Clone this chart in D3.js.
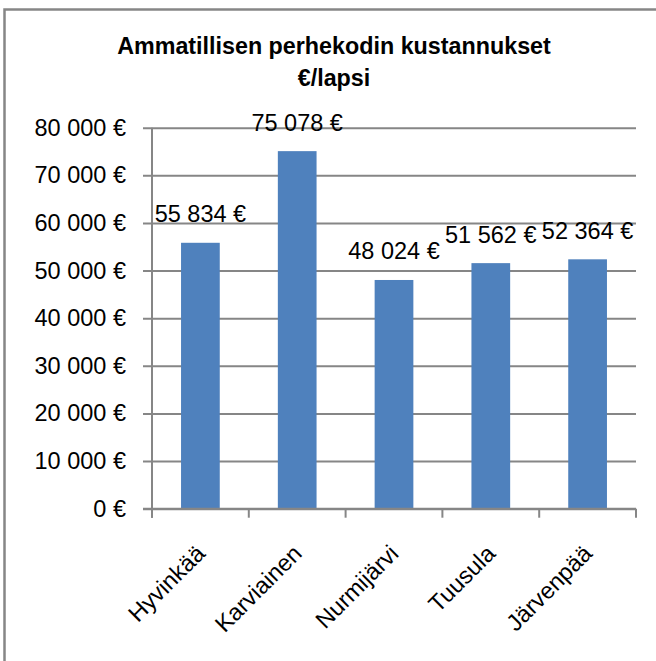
<!DOCTYPE html>
<html>
<head>
<meta charset="utf-8">
<script src="https://cdn.jsdelivr.net/npm/d3@7/dist/d3.min.js"></script>
<style>
  html, body { margin: 0; padding: 0; background: #fff; }
  svg { display: block; }
  text { font-family: "Liberation Sans", Arial, sans-serif; fill: #000; }
</style>
</head>
<body>
<svg id="chart" width="656" height="661"></svg>
<script>
const titleLines = ["Ammatillisen perhekodin kustannukset", "€/lapsi"];
const categories = ["Hyvinkää", "Karviainen", "Nurmijärvi", "Tuusula", "Järvenpää"];
const values = [55834, 75078, 48024, 51562, 52364];
const yTicks = [0, 10000, 20000, 30000, 40000, 50000, 60000, 70000, 80000];

const W = 656, H = 661;
const svg = d3.select("#chart");
const gray = "#868686";
const barColor = "#4F81BD";

const locale = d3.formatLocale({ decimal: ",", thousands: "\u00a0", grouping: [3], currency: ["", "\u00a0€"] });
const fmt = locale.format("$,.0f");

// outer border
svg.append("rect")
  .attr("x", 4.5).attr("y", 9.5)
  .attr("width", 700).attr("height", 700)
  .attr("fill", "none").attr("stroke", gray).attr("stroke-width", 2.5);

// title
const title = svg.append("text")
  .attr("text-anchor", "middle")
  .attr("font-weight", "bold")
  .attr("font-size", 23.3);
titleLines.forEach((t, i) => {
  title.append("tspan").attr("x", 334).attr("y", 53.5 + i * 32.5).text(t);
});

const plot = { left: 152, right: 636, top: 127.7, bottom: 508.7 };
const x = d3.scaleBand().domain(categories).range([plot.left, plot.right])
  .paddingInner(0.6).paddingOuter(0.3);
const y = d3.scaleLinear().domain([0, 80000]).range([plot.bottom, plot.top]);

// gridlines + y axis
const yAxis = d3.axisLeft(y).tickValues(yTicks).tickFormat(fmt)
  .tickSize(-(plot.right - plot.left)).tickPadding(26);
const gy = svg.append("g").attr("transform", `translate(${plot.left},0)`).call(yAxis);
gy.select(".domain").remove();
gy.selectAll(".tick line").attr("stroke", gray).attr("stroke-width", 2).attr("x1", -9);
gy.selectAll(".tick text").attr("font-size", 23.5).attr("fill", "#000")
  .attr("font-family", "Liberation Sans, Arial, sans-serif");

// vertical axis line
svg.append("line")
  .attr("x1", plot.left).attr("x2", plot.left)
  .attr("y1", plot.top).attr("y2", plot.bottom + 9)
  .attr("stroke", gray).attr("stroke-width", 2);

// bars
svg.append("g").selectAll("rect").data(values).join("rect")
  .attr("x", (d, i) => x(categories[i]))
  .attr("width", x.bandwidth())
  .attr("y", d => y(d))
  .attr("height", d => y(0) - y(d))
  .attr("fill", barColor);

// x axis line and category boundary ticks
svg.append("line")
  .attr("x1", plot.left - 9).attr("x2", plot.right)
  .attr("y1", plot.bottom).attr("y2", plot.bottom)
  .attr("stroke", gray).attr("stroke-width", 2);
const step = x.step();
const bounds = d3.range(categories.length + 1).map(i => plot.left + i * step);
svg.append("g").selectAll("line").data(bounds).join("line")
  .attr("x1", d => d).attr("x2", d => d)
  .attr("y1", plot.bottom).attr("y2", plot.bottom + 9)
  .attr("stroke", gray).attr("stroke-width", 2);

// data labels
svg.append("g").selectAll("text").data(values).join("text")
  .attr("x", (d, i) => x(categories[i]) + x.bandwidth() / 2)
  .attr("y", d => y(d) - 20.5)
  .attr("text-anchor", "middle")
  .attr("font-size", 23.5)
  .text(d => fmt(d));

// category labels (rotated)
svg.append("g").selectAll("text").data(categories).join("text")
  .attr("transform", d => `translate(${x(d) + x.bandwidth() / 2 + 6},555) rotate(-45)`)
  .attr("text-anchor", "end")
  .attr("font-size", 23.5)
  .text(d => d);
</script>
</body>
</html>
